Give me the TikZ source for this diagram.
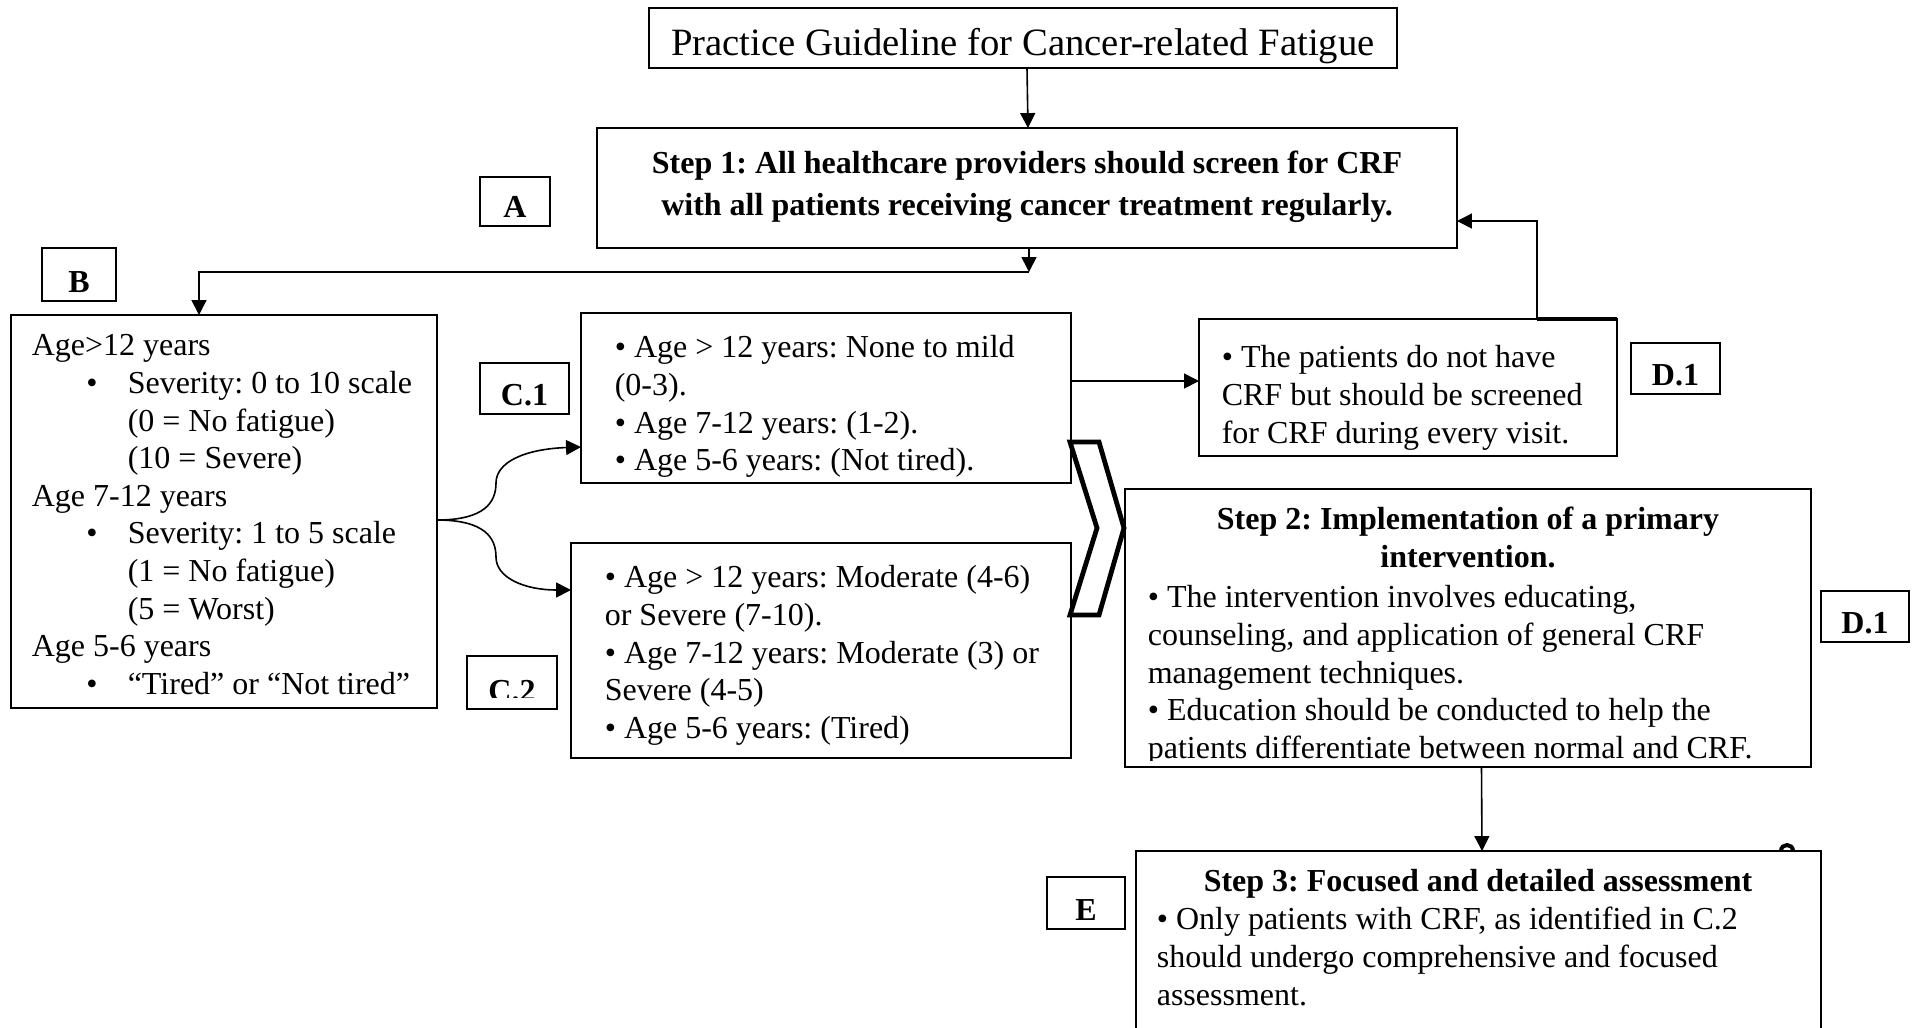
\documentclass[tikz,border=0pt]{standalone}
\usepackage{fontspec}
\setmainfont{Liberation Serif}
\usetikzlibrary{arrows.meta,calc,fit}
\newcommand\bodyfont{\fontsize{12}{14.1}\selectfont\frenchspacing}
\newcommand\bbul{\makebox[36pt][l]{\hspace{20.5pt}•}}
\newcommand\bind{\hspace*{36pt}}
\begin{document}
\begin{tikzpicture}[x=0.375pt,y=-0.375pt,
  line width=0.6pt,
  box/.style={draw, inner sep=0pt, outer sep=0pt},
  labtext/.style={inner sep=0pt, anchor=base, font=\bodyfont\bfseries},
  txt/.style={anchor=north west, inner sep=0pt, align=left, font=\bodyfont},
  head/.style={anchor=north, inner sep=0pt, align=center, font=\bodyfont\bfseries},
  arr/.style={-{Triangle[length=5.6pt,width=5.6pt]}},
]
\clip (0,0) rectangle (1919,1027);
\fill[white] (0,0) rectangle (1919,1027);

% title
\node[box, fit={(649,8) (1397,68)}] (title) {};
\node[inner sep=0pt, anchor=base, font=\fontsize{14.5}{16}\selectfont] (titletext) at (1023,55) {Practice Guideline for Cancer-related Fatigue};

% step 1
\node[box, fit={(597,128) (1457,248)}] (step1) {};
\node[head, font=\fontsize{12}{15.6}\selectfont\bfseries\frenchspacing] (step1text) at (1027,143.9) {\strut Step 1: All healthcare providers should screen for CRF\\ with all patients receiving cancer treatment regularly.};

% labels
\node[box, fit={(480,177) (550,226)}] (labA) {};
\node[labtext] (labAtext) at (515,217) {A};
\node[box, fit={(42,248) (116,301)}] (labB) {};
\node[labtext] (labBtext) at (79,292) {B};
\node[box, fit={(480,363) (569,414)}] (labC1) {};
\node[labtext] (labC1text) at (524.5,405) {C.1};
\node[box, fit={(467,656) (557,709)}] (labC2) {};
\begin{scope}
  \clip (467,656) rectangle (557,697);
  \node[labtext] (labC2text) at (512,701) {C.2};
\end{scope}
\node[box, fit={(1631,343) (1720,394)}] (labD1) {};
\node[labtext] (labD1text) at (1675.5,385) {D.1};
\node[box, fit={(1821,591) (1909,642)}] (labD1b) {};
\node[labtext] (labD1btext) at (1865,633) {D.1};
\node[box, fit={(1047,877) (1125,929)}] (labE) {};
\node[labtext] (labEtext) at (1086,920) {E};

% B box
\node[box, fit={(11,315) (437,708)}] (b) {};
\node[txt] (btext) at (31,328.7) {\strut Age>12 years\\
\bbul Severity: 0 to 10 scale\\
\bind (0 = No fatigue)\\
\bind (10 = Severe)\\
Age 7-12 years\\
\bbul Severity: 1 to 5 scale\\
\bind (1 = No fatigue)\\
\bind (5 = Worst)\\
Age 5-6 years\\
\bbul “Tired” or “Not tired”};

% C.1 box
\node[box, fit={(581,313) (1071,483)}] (c1) {};
\begin{scope}
  \clip (581,313) rectangle (1071,476);
  \node[txt] (c1text) at (614,330.7) {\strut • Age > 12 years: None to mild\\
(0-3).\\
• Age 7-12 years: (1-2).\\
• Age 5-6 years: (Not tired).};
\end{scope}

% C.2 box
\node[box, fit={(571,543) (1071,758)}] (c2) {};
\node[txt] (c2text) at (604,560.7) {\strut • Age > 12 years: Moderate (4-6)\\
or Severe (7-10).\\
• Age 7-12 years: Moderate (3) or\\
Severe (4-5)\\
• Age 5-6 years: (Tired)};

% D.1 box
\node[box, fit={(1199,319) (1617,456)}] (d1) {};
\node[txt] (d1text) at (1221,340.7) {\strut • The patients do not have\\
CRF but should be screened\\
for CRF during every visit.};

% chevron
\draw[line width=1.8pt, line join=miter] (1070,442) -- (1099,442) -- (1124,528) -- (1099,615) -- (1070,615) -- (1097,528) -- cycle;

% step 2
\node[box, fit={(1125,489) (1811,767)}] (step2) {};
\node[head] (step2head) at (1468,502.7) {\strut Step 2: Implementation of a primary\\ intervention.};
\begin{scope}
  \clip (1125,489) rectangle (1811,760);
  \node[txt] (step2text) at (1147,580.7) {\strut • The intervention involves educating,\\
counseling, and application of general CRF\\
management techniques.\\
• Education should be conducted to help the\\
patients differentiate between normal and CRF.};
\end{scope}

% step 3
\node[box, fit={(1136,851) (1821,1045)}] (step3) {};
\node[head] (step3head) at (1478,864.7) {\strut Step 3: Focused and detailed assessment};
\node[txt] (step3text) at (1156,902.7) {\strut • Only patients with CRF, as identified in C.2\\
should undergo comprehensive and focused\\
assessment.};
\draw[line width=1.5pt] (1781,851) .. controls (1781,843) and (1793,843) .. (1793,851);

% connectors
\draw[arr] ($(title.south)+(4,0)$) -- ($(step1.north)+(1,0)$);
\coordinate (j1) at ($(step1.south)+(2,24)$);
\draw[arr] ($(step1.south)+(2,0)$) -- (j1);
\draw[arr] (j1) -| ($(b.north)+(-25,0)$);

\coordinate (bs) at ($(b.east)+(0,8.5)$);
\draw[arr] (bs) .. controls (485,520) and (496,502) .. (496,483) .. controls (496,462) and (525,449) .. ($(c1.west)+(0,49)$);
\draw[arr] (bs) .. controls (485,520) and (496,538) .. (496,557) .. controls (496,578) and (525,590) .. ($(c2.west)+(0,-60.5)$);

\coordinate (c1o) at ($(c1.east)+(0,-17)$);
\draw[arr] (c1o) -- (c1o -| d1.west);

\coordinate (d1o) at ($(d1.north)+(129,0)$);
\draw[arr] (d1o) |- ($(step1.east)+(0,33)$);
\draw[line width=1.2pt] (d1o) -- (d1.north east);

\draw[arr] ($(step2.south)+(13.5,0)$) -- ($(step3.north)+(3.5,0)$);
\end{tikzpicture}
\end{document}
